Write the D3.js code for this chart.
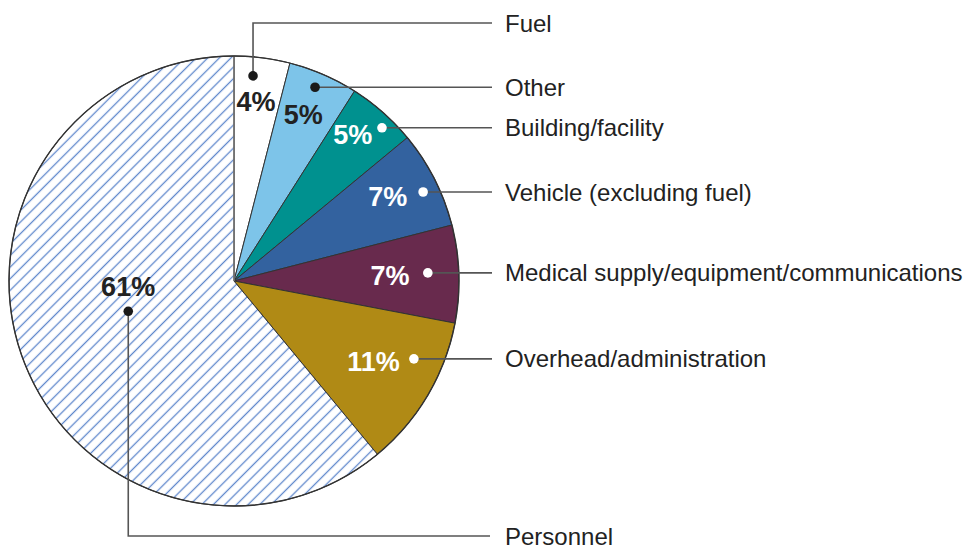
<!DOCTYPE html>
<html>
<head>
<meta charset="utf-8">
<script src="https://cdn.jsdelivr.net/npm/d3@7"></script>
<style>
  html, body { margin: 0; padding: 0; background: #fff; }
  svg { display: block; font-family: "Liberation Sans", Arial, sans-serif; }
</style>
</head>
<body>
<div id="chart"></div>
<script>
// data
const categories = ["Fuel", "Other", "Building/facility", "Vehicle (excluding fuel)",
  "Medical supply/equipment/communications", "Overhead/administration", "Personnel"];
const values = [4, 5, 5, 7, 7, 11, 61];
const sliceColors = ["#ffffff", "#7dc4e9", "#00918f", "#33629f", "#682a4d", "#b08a15", "url(#hatch)"];
const darkText = [true, true, false, false, false, false, true];

// layout tweaks: radius and angle offset (deg) from slice mid-angle
const dotPos = [[206, -1.9], [210, -0.7], [213, 2.6], [209, 1.8], [194, -0.6], [196, -7.2], [110, 3.8]];
const pctPos = [[180, -0.2], [180, -0.8], [188, -2.2], [175, -1.6], [156, -0.2], [161, -0.6], [106, 16.8]];
const elbowY = [23, null, null, null, null, null, 536];

const width = 965, height = 548;
const cx = 234, cy = 281, radius = 225;
const lineEnd = 492, textX = 505;

const svg = d3.select("#chart").append("svg")
  .attr("width", width)
  .attr("height", height);

const defs = svg.append("defs");
const step = 8.2;
const pat = defs.append("pattern")
  .attr("id", "hatch")
  .attr("patternUnits", "userSpaceOnUse")
  .attr("width", step)
  .attr("height", step)
  .attr("patternTransform", "rotate(45)");
pat.append("rect").attr("width", step).attr("height", step).attr("fill", "#fff");
pat.append("line")
  .attr("x1", step / 2).attr("y1", 0).attr("x2", step / 2).attr("y2", step)
  .attr("stroke", "#5f88cc")
  .attr("stroke-width", 1.3);

const pie = d3.pie().sort(null).value(d => d);
const arcs = pie(values);
const arc = d3.arc().innerRadius(0).outerRadius(radius);

const g = svg.append("g").attr("transform", `translate(${cx},${cy})`);

g.selectAll("path.slice")
  .data(arcs)
  .join("path")
  .attr("class", "slice")
  .attr("d", arc)
  .attr("fill", (d, i) => sliceColors[i])
  .attr("stroke", "#333")
  .attr("stroke-width", 1);

// gray divider between personnel and fuel
g.append("line")
  .attr("x1", 0).attr("y1", 0).attr("x2", 0).attr("y2", -radius)
  .attr("stroke", "#777").attr("stroke-width", 1.6);

g.append("circle")
  .attr("r", radius)
  .attr("fill", "none")
  .attr("stroke", "#333")
  .attr("stroke-width", 1.4);

function polar(r, a) {
  return [cx + r * Math.sin(a), cy - r * Math.cos(a)];
}
const rad = Math.PI / 180;
const mid = d => (d.startAngle + d.endAngle) / 2;

const dots = arcs.map((d, i) => polar(dotPos[i][0], mid(d) + dotPos[i][1] * rad));
const pcts = arcs.map((d, i) => polar(pctPos[i][0], mid(d) + pctPos[i][1] * rad));

// leader lines
svg.selectAll("path.leader")
  .data(arcs)
  .join("path")
  .attr("class", "leader")
  .attr("d", (d, i) => {
    const [x, y] = dots[i];
    if (elbowY[i] != null) return `M${x},${y}V${elbowY[i]}H${i === 6 ? lineEnd - 2 : lineEnd}`;
    return `M${x},${y}H${lineEnd}`;
  })
  .attr("fill", "none")
  .attr("stroke", "#555")
  .attr("stroke-width", 1.6);

svg.selectAll("circle.dot")
  .data(arcs)
  .join("circle")
  .attr("class", "dot")
  .attr("cx", (d, i) => dots[i][0])
  .attr("cy", (d, i) => dots[i][1])
  .attr("r", 4.8)
  .attr("fill", (d, i) => darkText[i] ? "#1a1a1a" : "#fff");

svg.selectAll("text.pct")
  .data(arcs)
  .join("text")
  .attr("class", "pct")
  .attr("x", (d, i) => pcts[i][0])
  .attr("y", (d, i) => pcts[i][1])
  .attr("text-anchor", "middle")
  .attr("dominant-baseline", "central")
  .attr("font-size", 27)
  .attr("font-weight", "bold")
  .attr("fill", (d, i) => darkText[i] ? "#222" : "#fff")
  .text(d => d.data + "%");

svg.selectAll("text.cat")
  .data(arcs)
  .join("text")
  .attr("class", "cat")
  .attr("x", textX)
  .attr("y", (d, i) => elbowY[i] != null ? elbowY[i] : dots[i][1])
  .attr("dominant-baseline", "central")
  .attr("font-size", 24)
  .attr("fill", "#222")
  .text((d, i) => categories[i]);
</script>
</body>
</html>
